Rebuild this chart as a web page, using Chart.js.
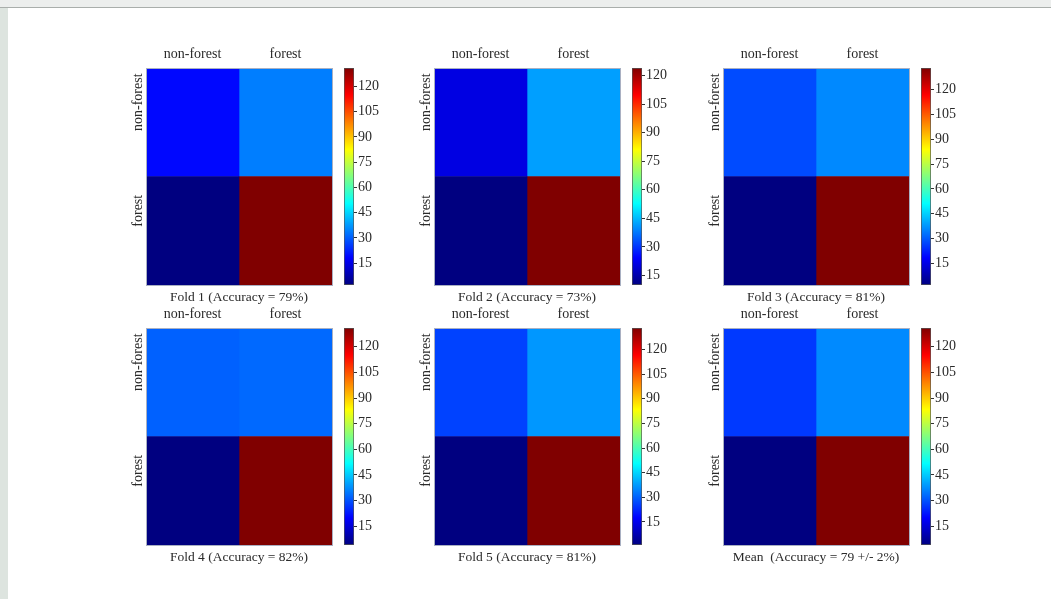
<!DOCTYPE html>
<html>
<head>
<meta charset="utf-8">
<script src="https://cdn.jsdelivr.net/npm/chart.js@4.4.1/dist/chart.umd.min.js"></script>
<style>
  html, body { margin: 0; padding: 0; background: #fff; }
  body { width: 1051px; height: 599px; position: relative; overflow: hidden; }
  #topband { position: absolute; left: 0; top: 0; width: 1051px; height: 7px; background: #eceeed; border-bottom: 1px solid #a9aeab; }
  #leftband { position: absolute; left: 0; top: 8px; width: 8px; height: 591px; background: #dde4df; }
  .box { position: absolute; }
</style>
</head>
<body>
<div id="topband"></div>
<div id="leftband"></div>
<script>
// ---- data ----
const classLabels = ['non-forest', 'forest'];
const colorbarTicks = [15, 30, 45, 60, 75, 90, 105, 120];
const captions = [
  'Fold 1 (Accuracy = 79%)',
  'Fold 2 (Accuracy = 73%)',
  'Fold 3 (Accuracy = 81%)',
  'Fold 4 (Accuracy = 82%)',
  'Fold 5 (Accuracy = 81%)',
  'Mean  (Accuracy = 79 +/- 2%)'
];
// rows = true class, columns = predicted class
const fold1 = [[19, 34], [2, 131]];
const fold2 = [[21, 42], [10, 124]];
const fold3 = [[28, 36], [2, 133]];
const fold4 = [[32, 33], [4, 131]];
const fold5 = [[26, 37], [1, 133]];
const foldMean = [[27, 37], [4, 131]];
const matrices = [fold1, fold2, fold3, fold4, fold5, foldMean];

// ---- layout ----
const panels = [
  { left: 146, top: 68, cb: 344 },
  { left: 434, top: 68, cb: 632 },
  { left: 723, top: 68, cb: 921 },
  { left: 146, top: 328, cb: 344 },
  { left: 434, top: 328, cb: 632 },
  { left: 723, top: 328, cb: 921 }
];
const HEAT_W = 186, HEAT_H = 217, CB_W = 10;
const FRAME = '#a9b0c2';
const TEXT = '#2a2a2a';
const FONT = 'Liberation Serif, DejaVu Serif, serif';

function jet(t) {
  t = Math.min(1, Math.max(0, t));
  const c = v => Math.round(255 * Math.min(1, Math.max(0, v)));
  return 'rgb(' + c(1.5 - Math.abs(4 * t - 3)) + ',' + c(1.5 - Math.abs(4 * t - 2)) + ',' + c(1.5 - Math.abs(4 * t - 1)) + ')';
}

function jetGradient(chart) {
  const a = chart.chartArea;
  if (!a) return 'blue';
  const g = chart.ctx.createLinearGradient(0, a.bottom, 0, a.top);
  for (let i = 0; i <= 32; i++) g.addColorStop(i / 32, jet(i / 32));
  return g;
}

function makeCanvas(left, top, w, h) {
  const div = document.createElement('div');
  div.className = 'box';
  div.style.left = left + 'px';
  div.style.top = top + 'px';
  const cv = document.createElement('canvas');
  cv.width = w;
  cv.height = h;
  cv.style.width = w + 'px';
  cv.style.height = h + 'px';
  div.appendChild(cv);
  document.body.appendChild(div);
  return cv;
}

matrices.forEach((m, k) => {
  const p = panels[k];
  const all = m.flat();
  const lo = Math.min(...all), hi = Math.max(...all);

  // heatmap
  const cv = makeCanvas(p.left - 30, p.top - 28, 30 + HEAT_W + 1, 28 + HEAT_H + 26);
  new Chart(cv, {
    type: 'bar',
    data: {
      labels: classLabels,
      datasets: classLabels.map((col, j) => ({
        label: col,
        data: m.map(() => [j, j + 1]),
        backgroundColor: m.map(row => jet((row[j] - lo) / (hi - lo))),
        borderWidth: 0,
        barPercentage: 1,
        categoryPercentage: 1
      }))
    },
    options: {
      indexAxis: 'y',
      responsive: false,
      animation: false,
      devicePixelRatio: 1,
      layout: { padding: 0 },
      plugins: { legend: { display: false }, tooltip: { enabled: false } },
      scales: {
        y: {
          type: 'category',
          position: 'left',
          offset: true,
          stacked: true,
          grid: { display: false, drawTicks: false },
          border: { display: true, color: FRAME, z: 1 },
          ticks: { minRotation: 90, maxRotation: 90, crossAlign: 'center', padding: -21, labelOffset: -20, font: { family: FONT, size: 14 }, color: TEXT },
          afterFit: s => { s.width = 30; s.paddingTop = 0; s.paddingBottom = 0; }
        },
        x: {
          type: 'linear',
          position: 'bottom',
          min: 0,
          max: 2,
          grid: { display: false, drawTicks: false },
          ticks: { display: false },
          border: { display: true, color: FRAME, z: 1 },
          title: { display: true, text: captions[k], font: { family: FONT, size: 13.5 }, color: TEXT, padding: { top: 0, bottom: 5 } },
          afterFit: s => { s.height = 26; s.paddingLeft = 0; s.paddingRight = 0; }
        },
        x2: {
          type: 'category',
          labels: classLabels,
          position: 'top',
          offset: true,
          grid: { display: false, drawTicks: false },
          border: { display: true, color: FRAME, z: 1 },
          ticks: { font: { family: FONT, size: 14 }, color: TEXT, padding: 5.5 },
          afterFit: s => { s.height = 28; s.paddingLeft = 0; s.paddingRight = 0; }
        },
        y2: {
          type: 'linear',
          position: 'right',
          grid: { display: false, drawTicks: false },
          ticks: { display: false },
          border: { display: true, color: FRAME, z: 1 },
          afterFit: s => { s.width = 1; s.paddingTop = 0; s.paddingBottom = 0; }
        }
      }
    }
  });

  // colorbar
  const cb = makeCanvas(p.cb, p.top - 10, CB_W + 30, HEAT_H + 20);
  new Chart(cb, {
    type: 'bar',
    data: {
      labels: [''],
      datasets: [{
        data: [[lo, hi]],
        backgroundColor: ctx => jetGradient(ctx.chart),
        borderColor: '#555',
        borderWidth: 1,
        borderSkipped: false,
        barPercentage: 1,
        categoryPercentage: 1
      }]
    },
    options: {
      responsive: false,
      animation: false,
      devicePixelRatio: 1,
      layout: { padding: { top: 10, bottom: 10, left: 0, right: 0 } },
      plugins: { legend: { display: false }, tooltip: { enabled: false } },
      scales: {
        x: { display: false },
        y: {
          position: 'right',
          min: lo,
          max: hi,
          afterBuildTicks: s => { s.ticks = colorbarTicks.map(v => ({ value: v })); },
          grid: { drawOnChartArea: false, drawTicks: true, tickLength: 3, color: '#333' },
          border: { display: false },
          ticks: { font: { family: FONT, size: 14 }, color: TEXT, padding: 1 },
          afterFit: s => { s.width = 30; s.paddingTop = 0; s.paddingBottom = 0; }
        }
      }
    }
  });
});
</script>
</body>
</html>
